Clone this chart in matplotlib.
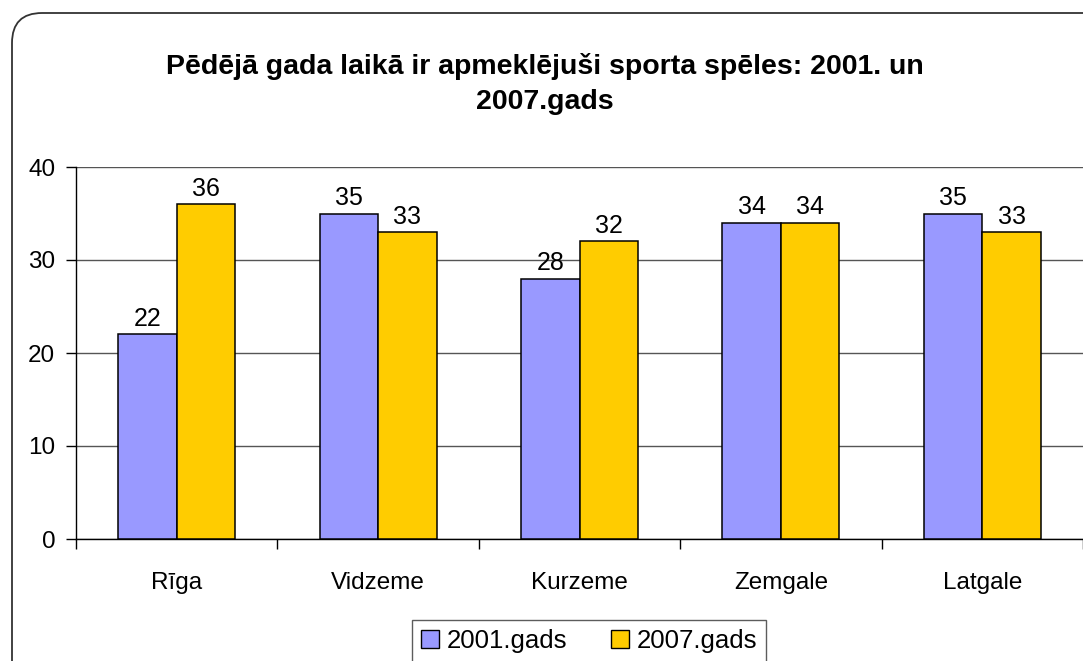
import numpy as np
import matplotlib.pyplot as plt
from matplotlib.patches import FancyBboxPatch, Patch
from matplotlib.transforms import IdentityTransform

plt.rcParams['font.family'] = ['Liberation Sans', 'DejaVu Sans']

# Dati
regioni = ["Rīga", "Vidzeme", "Kurzeme", "Zemgale", "Latgale"]
gads_2001 = [22, 35, 28, 34, 35]
gads_2007 = [36, 33, 32, 34, 33]
nosaukums = "Pēdējā gada laikā ir apmeklējuši sporta spēles: 2001. un\n2007.gads"

fig = plt.figure(figsize=(10.83, 6.61), dpi=100)

# noapaļots rāmis ap diagrammu (pikseļos)
ramis = FancyBboxPatch((12, -40), 1120, 661 - 13 + 40,
                       boxstyle="round,pad=0,rounding_size=30",
                       transform=IdentityTransform(), facecolor="none",
                       edgecolor="#333333", linewidth=1.3, zorder=5)
fig.patches.append(ramis)

ax = fig.add_axes([76 / 1083, 1 - 539 / 661, 1 - 76 / 1083, (539 - 167) / 661])
ax.set_facecolor("none")

x = np.arange(len(regioni))
w = 0.29
b1 = ax.bar(x - w / 2, gads_2001, w, color="#9999FF", edgecolor="black", linewidth=1.1, zorder=3)
b2 = ax.bar(x + w / 2, gads_2007, w, color="#FFCC00", edgecolor="black", linewidth=1.1, zorder=3)

for bars in (b1, b2):
    for r in bars:
        ax.annotate(str(int(r.get_height())), (r.get_x() + r.get_width() / 2, r.get_height()),
                    xytext=(0, 2.5), textcoords="offset points", ha="center", va="bottom", fontsize=18)

ax.set_xlim(-0.5, len(regioni) - 0.5)
ax.set_ylim(0, 40)
ax.set_yticks([0, 10, 20, 30, 40])
ax.yaxis.grid(True, color="#555555", linewidth=1, zorder=1)
ax.set_axisbelow(True)
ax.tick_params(axis="y", labelsize=17.5, length=7, width=1, direction="out", pad=8)

ax.set_xticks(x)
ax.set_xticklabels(regioni)
ax.tick_params(axis="x", which="major", length=0, labelsize=17.5, pad=24)
ax.set_xticks(np.arange(-0.5, len(regioni)), minor=True)
ax.tick_params(axis="x", which="minor", length=7, width=1, direction="out")

for s in ["top", "right"]:
    ax.spines[s].set_visible(False)
ax.spines["left"].set_linewidth(1)
ax.spines["bottom"].set_linewidth(1)

fig.text(545 / 1083, 1 - 84 / 661, nosaukums, ha="center", va="center",
         fontsize=20.5, fontweight="bold", linespacing=1.45)

leg = fig.legend(handles=[Patch(facecolor="#9999FF", edgecolor="black", label="2001.gads"),
                          Patch(facecolor="#FFCC00", edgecolor="black", label="2007.gads")],
                 loc="upper center", bbox_to_anchor=(589 / 1083, 1 - 620 / 661), ncol=2,
                 fontsize=18.5, frameon=True, fancybox=False, handlelength=0.7, handleheight=0.7,
                 handletextpad=0.3, columnspacing=1.7, borderpad=0.35, borderaxespad=0)
leg.get_frame().set_edgecolor("#333333")
leg.get_frame().set_linewidth(1)

fig.savefig("out.png", dpi=100)
